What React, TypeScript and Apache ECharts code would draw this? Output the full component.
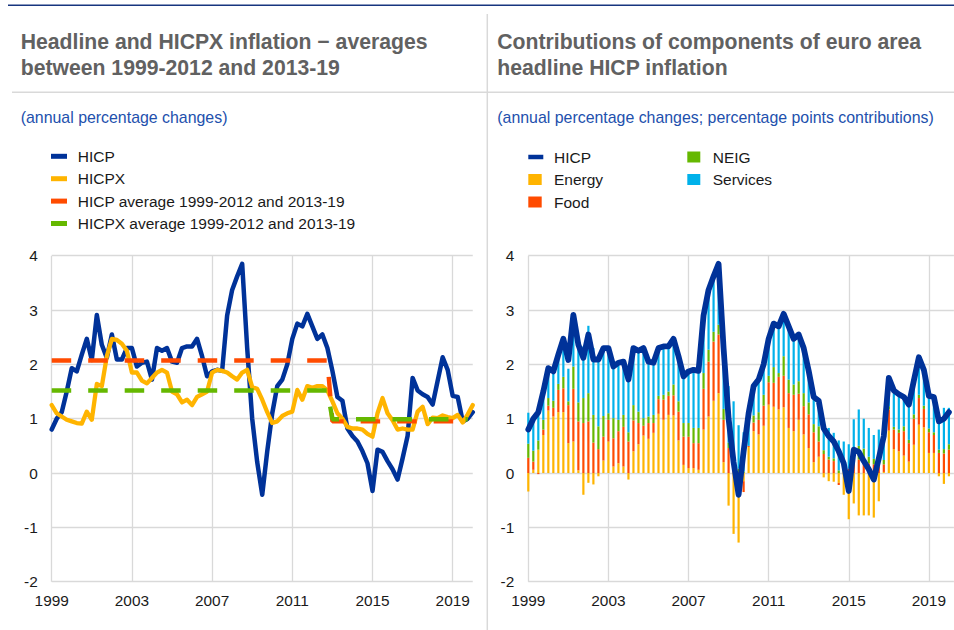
import React, { useEffect, useRef } from 'react';
import * as echarts from 'echarts';

// ---------- categories (quarters 1999Q1 .. 2020Q1) ----------
const years: number[] = [];
for (let y = 1999; y <= 2020; y++) years.push(y);
const allQuarters: string[] = [];
years.forEach((y) => ['Q1', 'Q2', 'Q3', 'Q4'].forEach((q) => allQuarters.push(`${y}${q}`)));
const quarters = allQuarters.slice(0, 85); // 1999Q1 - 2020Q1
const quartersRight = allQuarters.slice(0, 86); // one empty slot at the right edge

const xTickLabels = ['1999', '2003', '2007', '2011', '2015', '2019'];
const yMin = -2;
const yMax = 4;

// ---------- series values ----------
const hicp = [
  0.8, 1.0, 1.12, 1.5,
  1.93, 1.87, 2.18, 2.47,
  2.08, 2.91, 2.36, 2.12,
  2.55, 2.09, 2.09, 2.3,
  2.3, 1.96, 2.03, 2.05,
  1.72, 2.3, 2.25, 2.3,
  2.05, 2.03, 2.3, 2.33,
  2.33, 2.47, 2.15, 1.78,
  1.87, 1.9, 1.88, 2.9,
  3.37, 3.62, 3.85, 2.3,
  1.0, 0.2, -0.4, 0.4,
  1.1, 1.6, 1.72, 2.0,
  2.47, 2.75, 2.7, 2.93,
  2.7, 2.47, 2.55, 2.3,
  1.88, 1.4, 1.33, 0.82,
  0.68, 0.58, 0.4, 0.18,
  -0.33, 0.43, 0.39, 0.22,
  0.07, -0.12, 0.27, 0.68,
  1.75, 1.52, 1.45, 1.4,
  1.26, 1.7, 2.13, 1.9,
  1.42, 1.4, 0.95, 1.0,
  1.12,
];

const hicpx = [
  1.25, 1.1, 1.04, 0.98,
  0.95, 0.92, 0.91, 1.13,
  0.98, 1.64, 1.6, 2.15,
  2.47, 2.45, 2.38, 2.25,
  1.85, 1.85, 1.7, 1.65,
  1.75, 1.85, 1.9, 1.85,
  1.5, 1.45, 1.3, 1.35,
  1.25, 1.4, 1.45, 1.5,
  1.85, 1.9, 1.88, 1.85,
  1.78, 1.72, 1.85, 1.9,
  1.58, 1.55, 1.35, 1.12,
  0.92, 0.95, 1.05, 1.1,
  1.13, 1.53, 1.35, 1.6,
  1.57, 1.6, 1.6, 1.52,
  1.32, 1.1, 1.0, 0.85,
  0.82, 0.82, 0.8, 0.72,
  0.67, 1.1, 1.38, 1.1,
  0.97, 0.8, 0.82, 0.8,
  0.8, 1.13, 1.22, 0.9,
  1.02, 1.01, 1.06, 1.03,
  1.01, 1.07, 0.93, 1.08,
  1.25,
];

// period averages
const HICP_AVG_1999_2012 = 2.07;
const HICP_AVG_2013_2019 = 0.95;
const HICPX_AVG_1999_2012 = 1.52;
const HICPX_AVG_2013_2019 = 0.99;

// contributions (percentage points)
const energy = [
  -0.34, 0.06, 0.43, 0.7,
  1.15, 1.04, 1.12, 1.12,
  0.55, 0.58, 0.05, -0.4,
  -0.18, -0.21, -0.06, 0.23,
  0.58, 0.12, 0.18, 0.12,
  -0.12, 0.4, 0.53, 0.69,
  0.63, 0.74, 1.09, 0.98,
  1.07, 1.06, 0.6, 0.15,
  0.09, 0.09, 0.06, 0.8,
  1.04, 1.33, 1.47, 0.2,
  -0.6, -1.12, -1.28, -0.15,
  0.48, 0.77, 0.71, 0.87,
  1.26, 1.22, 1.17, 1.21,
  0.83, 0.77, 0.98, 0.71,
  0.46, 0.2, 0.3, -0.08,
  -0.15, -0.16, -0.18, -0.4,
  -0.85, -0.56, -0.78, -0.78,
  -0.78, -0.82, -0.52, 0.02,
  0.78, 0.44, 0.4, 0.32,
  0.21, 0.52, 0.89, 0.84,
  0.37, 0.37, -0.06, -0.2,
  -0.06,
];
const food = [
  0.28, 0.15, -0.02, 0.1,
  0.09, 0.16, 0.41, 0.44,
  0.7, 0.97, 0.9, 0.92,
  0.95, 0.56, 0.44, 0.44,
  0.4, 0.52, 0.59, 0.73,
  0.58, 0.57, 0.39, 0.18,
  0.29, 0.18, 0.27, 0.37,
  0.35, 0.37, 0.53, 0.52,
  0.58, 0.46, 0.49, 0.75,
  1.01, 1.09, 1.08, 0.78,
  0.46, 0.2, 0.02, -0.2,
  0.02, 0.16, 0.27, 0.37,
  0.41, 0.44, 0.6, 0.58,
  0.64, 0.67, 0.48, 0.52,
  0.62, 0.55, 0.28, 0.35,
  0.25, 0.22, -0.04, 0.02,
  0.08, 0.17, 0.25, 0.23,
  0.18, 0.16, 0.12, 0.14,
  0.39, 0.36, 0.34, 0.45,
  0.34, 0.48, 0.49, 0.34,
  0.38, 0.33, 0.37, 0.36,
  0.43,
];
const neig = [
  0.26, 0.2, 0.17, 0.18,
  0.14, 0.13, 0.11, 0.21,
  0.07, 0.41, 0.35, 0.46,
  0.52, 0.51, 0.42, 0.38,
  0.12, 0.37, 0.21, 0.22,
  0.17, 0.28, 0.21, 0.14,
  0.12, 0.15, 0.06, 0.09,
  0.08, 0.2, 0.19, 0.25,
  0.25, 0.28, 0.28, 0.29,
  0.22, 0.18, 0.18, 0.2,
  0.1, 0.12, 0.06, 0.03,
  0.0, 0.13, 0.14, 0.2,
  0.12, 0.29, 0.07, 0.36,
  0.25, 0.19, 0.23, 0.24,
  0.22, 0.15, 0.28, 0.07,
  0.05, 0.05, 0.05, 0.04,
  0.0, 0.2, 0.25, 0.22,
  0.12, 0.1, 0.1, 0.08,
  0.06, 0.05, 0.06, 0.09,
  0.06, 0.08, 0.06, 0.06,
  0.07, 0.05, 0.06, 0.08,
  0.1,
];
const services = [
  0.57, 0.63, 0.55, 0.5,
  0.55, 0.57, 0.54, 0.68,
  0.6, 0.94, 1.05, 0.95,
  1.24, 1.23, 1.29, 1.25,
  1.2, 0.95, 1.04, 0.98,
  1.09, 1.05, 1.12, 1.29,
  1.01, 0.96, 0.88, 0.89,
  0.83, 0.84, 0.83, 0.86,
  0.95, 1.07, 1.05, 1.06,
  1.1, 1.02, 1.12, 1.12,
  1.04, 1.0, 0.8, 0.72,
  0.6, 0.54, 0.6, 0.56,
  0.68, 0.8, 0.86, 0.78,
  0.98, 0.84, 0.86, 0.83,
  0.58, 0.5, 0.47, 0.48,
  0.53, 0.47, 0.55, 0.52,
  0.45, 0.62, 0.67, 0.55,
  0.53, 0.44, 0.58, 0.46,
  0.52, 0.67, 0.65, 0.54,
  0.65, 0.62, 0.69, 0.66,
  0.6, 0.65, 0.58, 0.76,
  0.67,
];

// ---------- styles ----------
const FONT = '"Liberation Sans", Arial, Helvetica, sans-serif';
const DARK_BLUE = '#003299';
const YELLOW = '#ffb400';
const RED = '#ff4b00';
const GREEN = '#65b800';
const CYAN = '#00b1ea';
const GRID_GREY = '#d9d9d9';
const TITLE_GREY = '#616161';
const SUB_BLUE = '#2250ad';
const TEXT = '#1a1a1a';

// build average series (period 1999-2012: before 2013Q1; 2013-19: 2013Q1..2019Q4)
const idx2013 = quarters.indexOf('2013Q1');
const idxEnd = quarters.indexOf('2019Q4');
const periodAvg = (a: number, b: number) =>
  quarters.map((_, i) => (i < idx2013 ? a : i <= idxEnd ? b : null));
const hicpAvg = periodAvg(HICP_AVG_1999_2012, HICP_AVG_2013_2019);
const hicpxAvg = periodAvg(HICPX_AVG_1999_2012, HICPX_AVG_2013_2019);

const isTick = (_i: number, v: string) => v.endsWith('Q1') && xTickLabels.includes(v.slice(0, 4));

function makeXAxis(gridIndex: number, data: string[]) {
  return {
    type: 'category',
    gridIndex,
    data,
    boundaryGap: false,
    axisLine: { show: false },
    axisTick: { show: false, interval: isTick },
    axisLabel: {
      interval: isTick,
      formatter: (v: string) => v.slice(0, 4),
      fontSize: 15.4,
      color: TEXT,
      fontFamily: FONT,
      margin: 11,
    },
    splitLine: { show: true, interval: isTick, lineStyle: { color: GRID_GREY, width: 1.3 } },
  };
}
function makeYAxis(gridIndex: number) {
  return {
    type: 'value',
    gridIndex,
    min: yMin,
    max: yMax,
    interval: 1,
    axisLine: { show: false },
    axisTick: { show: false },
    axisLabel: { fontSize: 15.4, color: TEXT, fontFamily: FONT, margin: 14 },
    splitLine: { show: true, lineStyle: { color: GRID_GREY, width: 1.3 } },
  };
}

const legendText = (padLeft: number) => ({
  fontSize: 15.5,
  color: TEXT,
  fontFamily: FONT,
  lineHeight: 18,
  padding: [0, 0, 0, padLeft],
});

export default function App() {
  const ref = useRef<HTMLDivElement>(null);
  useEffect(() => {
    if (!ref.current) return;
    const chart = echarts.init(ref.current, null, { renderer: 'svg' });
    const option: any = {
      animation: false,
      backgroundColor: '#ffffff',
      title: [
        {
          text: 'Headline and HICPX inflation − averages\nbetween 1999-2012 and 2013-19',
          left: 20.7,
          top: 27.7,
          padding: 0,
          textStyle: { fontSize: 21.2, fontWeight: 'bold', color: TITLE_GREY, lineHeight: 26.7, fontFamily: FONT },
        },
        {
          text: 'Contributions of components of euro area\nheadline HICP inflation',
          left: 497.3,
          top: 27.7,
          padding: 0,
          textStyle: { fontSize: 21.2, fontWeight: 'bold', color: TITLE_GREY, lineHeight: 26.7, fontFamily: FONT },
        },
        {
          text: '(annual percentage changes)',
          left: 20.7,
          top: 109,
          padding: 0,
          textStyle: { fontSize: 15.9, fontWeight: 'normal', color: SUB_BLUE, lineHeight: 16, fontFamily: FONT },
        },
        {
          text: '(annual percentage changes; percentage points contributions)',
          left: 497.3,
          top: 109,
          padding: 0,
          textStyle: { fontSize: 15.9, fontWeight: 'normal', color: SUB_BLUE, lineHeight: 16, fontFamily: FONT },
        },
      ],
      legend: [
        {
          left: 51,
          top: 147.3,
          orient: 'vertical',
          padding: 0,
          itemGap: 4.4,
          itemWidth: 16,
          itemHeight: 5,
          selectedMode: false,
          textStyle: legendText(5.7),
          data: [
            { name: 'HICP', icon: 'rect' },
            { name: 'HICPX', icon: 'rect' },
            { name: 'HICP average 1999-2012 and 2013-19', icon: 'rect' },
            { name: 'HICPX average 1999-2012 and 2013-19', icon: 'rect' },
          ],
        },
        {
          left: 528.3,
          top: 148,
          orient: 'vertical',
          padding: 0,
          itemWidth: 15,
          itemHeight: 4.5,
          selectedMode: false,
          textStyle: legendText(5.7),
          data: [{ name: 'HICP', icon: 'rect' }],
        },
        {
          left: 528.3,
          top: 170.5,
          orient: 'vertical',
          padding: 0,
          itemGap: 4.5,
          itemWidth: 13.4,
          itemHeight: 11,
          selectedMode: false,
          textStyle: legendText(7.3),
          data: [
            { name: 'Energy', icon: 'rect' },
            { name: 'Food', icon: 'rect' },
          ],
        },
        {
          left: 687.3,
          top: 148,
          orient: 'vertical',
          padding: 0,
          itemGap: 4.5,
          itemWidth: 13,
          itemHeight: 11,
          selectedMode: false,
          textStyle: legendText(7.4),
          data: [
            { name: 'NEIG', icon: 'rect' },
            { name: 'Services', icon: 'rect' },
          ],
        },
      ],
      grid: [
        { left: 51.7, top: 255.7, width: 421.05, height: 326, containLabel: false, outerBoundsMode: 'none' },
        { left: 528.3, top: 255.7, width: 425.6, height: 326, containLabel: false, outerBoundsMode: 'none' },
      ],
      xAxis: [makeXAxis(0, quarters), makeXAxis(1, quartersRight)],
      yAxis: [makeYAxis(0), makeYAxis(1)],
      graphic: [
        { type: 'line', shape: { x1: 8, y1: 5.3, x2: 954, y2: 5.3 }, style: { stroke: '#17357f', lineWidth: 1.4 } },
        { type: 'line', shape: { x1: 12, y1: 92.3, x2: 954, y2: 92.3 }, style: { stroke: GRID_GREY, lineWidth: 1.4 } },
        { type: 'line', shape: { x1: 487.3, y1: 14, x2: 487.3, y2: 630 }, style: { stroke: GRID_GREY, lineWidth: 1.5 } },
      ],
      series: [
        {
          name: 'HICP',
          type: 'line',
          xAxisIndex: 0,
          yAxisIndex: 0,
          data: hicp,
          symbol: 'none',
          color: DARK_BLUE,
          lineStyle: { color: DARK_BLUE, width: 4.5, join: 'round', cap: 'round' },
          z: 2,
        },
        {
          name: 'HICPX',
          type: 'line',
          xAxisIndex: 0,
          yAxisIndex: 0,
          data: hicpx,
          symbol: 'none',
          color: YELLOW,
          lineStyle: { color: YELLOW, width: 4.3, join: 'round', cap: 'round' },
          z: 3,
        },
        {
          name: 'HICP average 1999-2012 and 2013-19',
          type: 'line',
          xAxisIndex: 0,
          yAxisIndex: 0,
          data: hicpAvg,
          symbol: 'none',
          color: RED,
          lineStyle: { color: RED, width: 4.4, type: [19.5, 17], cap: 'butt' },
          z: 4,
        },
        {
          name: 'HICPX average 1999-2012 and 2013-19',
          type: 'line',
          xAxisIndex: 0,
          yAxisIndex: 0,
          data: hicpxAvg,
          symbol: 'none',
          color: GREEN,
          lineStyle: { color: GREEN, width: 4.4, type: [19.5, 17], cap: 'butt' },
          z: 5,
        },
        {
          name: 'Energy',
          type: 'bar',
          xAxisIndex: 1,
          yAxisIndex: 1,
          stack: 'contrib',
          barWidth: 2.2,
          data: energy,
          color: YELLOW,
          itemStyle: { color: YELLOW },
        },
        {
          name: 'Food',
          type: 'bar',
          xAxisIndex: 1,
          yAxisIndex: 1,
          stack: 'contrib',
          barWidth: 2.2,
          data: food,
          color: RED,
          itemStyle: { color: RED },
        },
        {
          name: 'NEIG',
          type: 'bar',
          xAxisIndex: 1,
          yAxisIndex: 1,
          stack: 'contrib',
          barWidth: 2.2,
          data: neig,
          color: GREEN,
          itemStyle: { color: GREEN },
        },
        {
          name: 'Services',
          type: 'bar',
          xAxisIndex: 1,
          yAxisIndex: 1,
          stack: 'contrib',
          barWidth: 2.2,
          data: services,
          color: CYAN,
          itemStyle: { color: CYAN },
        },
        {
          name: 'HICP',
          type: 'line',
          xAxisIndex: 1,
          yAxisIndex: 1,
          data: hicp,
          symbol: 'none',
          color: DARK_BLUE,
          lineStyle: { color: DARK_BLUE, width: 5.8, join: 'round', cap: 'round' },
          z: 6,
        },
      ],
    };
    chart.setOption(option);
    return () => chart.dispose();
  }, []);
  return (
    <div
      ref={ref}
      style={{ position: 'absolute', left: 0, top: 0, width: 954, height: 630, background: '#fff' }}
    />
  );
}
